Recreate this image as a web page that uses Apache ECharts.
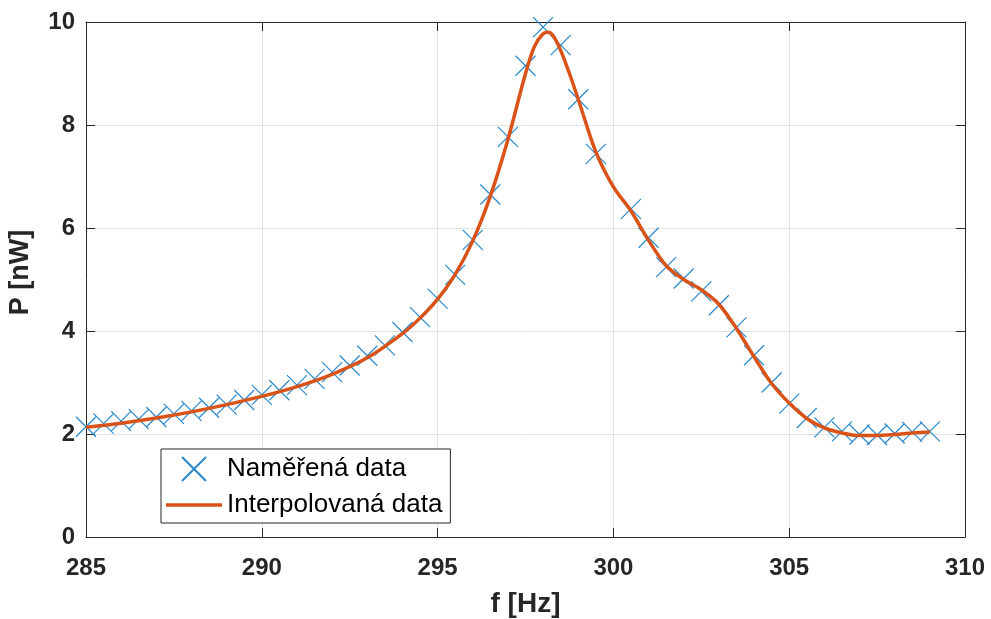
<!DOCTYPE html>
<html>
<head>
<meta charset="utf-8">
<script src="https://cdn.jsdelivr.net/npm/echarts@6/dist/echarts.min.js"></script>
<style>html,body{margin:0;padding:0;background:#fff}#c{width:991px;height:619px}</style>
</head>
<body>
<div id="c"></div>
<script>
// Measured data (Naměřená data)
const measF = [285,285.5,286,286.5,287,287.5,288,288.5,289,289.5,290,290.5,291,291.5,292,292.5,293,293.5,294,294.5,295,295.5,296,296.5,297,297.5,298,298.5,299,299.5,300.5,301,301.5,302,302.5,303,303.5,304,304.5,305,305.5,306,306.5,307,307.5,308,308.5,309];
const measP = [2.14,2.20,2.25,2.29,2.33,2.39,2.45,2.51,2.57,2.66,2.76,2.85,2.95,3.07,3.20,3.33,3.52,3.72,3.98,4.27,4.63,5.09,5.77,6.65,7.77,9.15,9.90,9.55,8.50,7.44,6.37,5.81,5.24,5.02,4.77,4.50,4.07,3.53,3.00,2.59,2.31,2.13,2.05,1.99,1.98,2.01,2.04,2.05];
// Interpolated curve (Interpolovaná data)
const curveF = [285,286,287,288,289,290,291,292,293,294,294.5,295,295.5,296,296.5,297,297.5,297.75,298,298.15,298.3,298.5,298.75,299,299.5,300,300.5,301,301.5,302,302.5,303,303.5,304,304.5,305,305.5,306,306.5,307,307.5,308,308.5,309];
const curveP = [2.13,2.21,2.31,2.43,2.57,2.73,2.92,3.16,3.48,3.95,4.25,4.62,5.10,5.75,6.62,7.72,9.00,9.52,9.77,9.80,9.72,9.45,9.00,8.50,7.48,6.80,6.33,5.76,5.27,5.00,4.80,4.52,4.05,3.50,2.98,2.60,2.30,2.12,2.02,1.97,1.97,1.99,2.02,2.04];
const xTicks = [285,290,295,300,305,310];
const yTicks = [0,2,4,6,8,10];
const nameMeas = 'Naměřená data';
const nameCurve = 'Interpolovaná data';

const axisCol = '#262626';
const gridCol = '#e2e2e2';
const font = 'Liberation Sans, Arial, sans-serif';
const X_PATH = 'path://M0,0L10,10M10,0L0,10';

const chart = echarts.init(document.getElementById('c'), null, {renderer: 'canvas'});
const commonX = {
  type: 'value', min: xTicks[0], max: xTicks[xTicks.length-1], interval: 5
};
const commonY = {
  type: 'value', min: yTicks[0], max: yTicks[yTicks.length-1], interval: 2
};
chart.setOption({
  animation: false,
  backgroundColor: '#fff',
  grid: {left: 86, right: 26, top: 22, bottom: 82, containLabel: false, outerBoundsMode: 'none'},
  xAxis: [
    Object.assign({}, commonX, {
      position: 'bottom',
      name: 'f [Hz]', nameLocation: 'middle', nameGap: 53,
      nameTextStyle: {fontFamily: font, fontSize: 28, fontWeight: 'bold', color: axisCol},
      axisLine: {show: true, onZero: false, lineStyle: {color: axisCol, width: 1}},
      axisTick: {show: true, inside: true, length: 9, lineStyle: {color: axisCol}},
      axisLabel: {fontFamily: font, fontSize: 24, fontWeight: 'bold', color: axisCol, margin: 19,
        formatter: v => xTicks.includes(v) ? String(v) : ''},
      splitLine: {show: true, lineStyle: {color: gridCol, width: 1}}
    }),
    Object.assign({}, commonX, {
      position: 'top',
      axisLine: {show: true, onZero: false, lineStyle: {color: axisCol, width: 1}},
      axisTick: {show: true, inside: true, length: 9, lineStyle: {color: axisCol}},
      axisLabel: {show: false}, splitLine: {show: false}
    })
  ],
  yAxis: [
    Object.assign({}, commonY, {
      position: 'left',
      name: 'P [nW]', nameLocation: 'middle', nameGap: 52, nameRotate: 90,
      nameTextStyle: {fontFamily: font, fontSize: 27, fontWeight: 'bold', color: axisCol, padding: [0, 0, 0, 14]},
      axisLine: {show: true, onZero: false, lineStyle: {color: axisCol, width: 1}},
      axisTick: {show: true, inside: true, length: 9, lineStyle: {color: axisCol}},
      axisLabel: {fontFamily: font, fontSize: 24, fontWeight: 'bold', color: axisCol, margin: 11,
        formatter: v => yTicks.includes(v) ? String(v) : ''},
      splitLine: {show: true, lineStyle: {color: gridCol, width: 1}}
    }),
    Object.assign({}, commonY, {
      position: 'right',
      axisLine: {show: true, onZero: false, lineStyle: {color: axisCol, width: 1}},
      axisTick: {show: true, inside: true, length: 9, lineStyle: {color: axisCol}},
      axisLabel: {show: false}, splitLine: {show: false}
    })
  ],
  legend: {
    orient: 'vertical', left: 161, top: 449,
    backgroundColor: '#fff', borderColor: axisCol, borderWidth: 1, borderRadius: 0,
    padding: [7, 8, 5, 5], itemGap: 10, itemWidth: 56, itemHeight: 24,
    textStyle: {fontFamily: font, fontSize: 26, color: '#000'},
    data: [
      {name: nameMeas, icon: X_PATH},
      {name: nameCurve, icon: 'path://M0,0H56V3.5H0Z'}
    ]
  },
  series: [
    {
      name: nameMeas, type: 'scatter', xAxisIndex: 0, yAxisIndex: 0,
      data: measF.map((f, i) => [f, measP[i]]),
      symbol: X_PATH, symbolSize: 20,
      itemStyle: {color: 'rgba(0,0,0,0)', borderColor: '#2a88cc', borderWidth: 1.2, opacity: 1},
      z: 2
    },
    {
      name: nameCurve, type: 'line', xAxisIndex: 0, yAxisIndex: 0,
      data: curveF.map((f, i) => [f, curveP[i]]),
      smooth: 0.3, showSymbol: false, symbol: 'none',
      color: '#D95319',
      lineStyle: {color: '#D95319', width: 3.5},
      itemStyle: {color: '#D95319'},
      z: 3
    }
  ]
});
</script>
</body>
</html>
